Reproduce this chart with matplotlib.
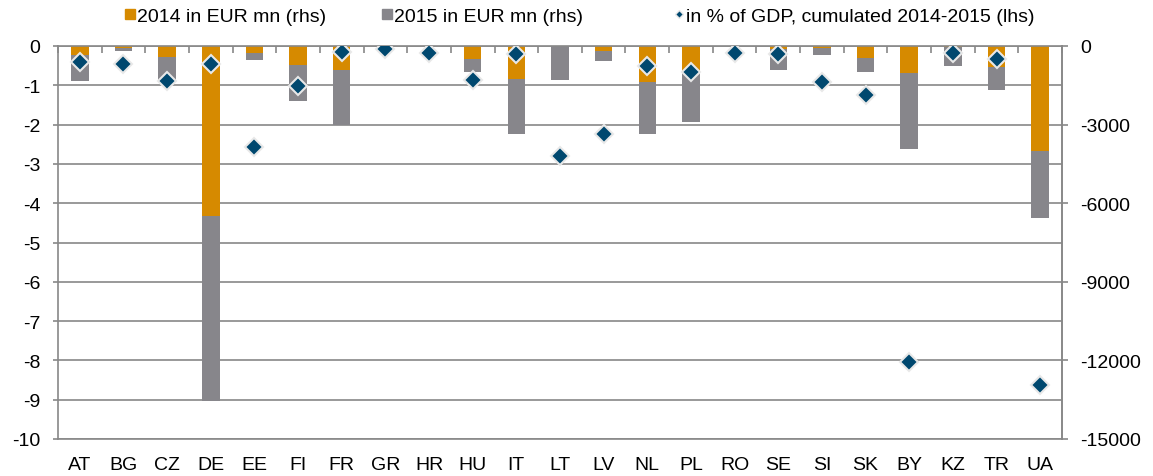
import matplotlib
matplotlib.use("Agg")
import matplotlib.pyplot as plt
from matplotlib.ticker import MultipleLocator, FixedLocator
from matplotlib.lines import Line2D
import numpy as np

countries = ['AT', 'BG', 'CZ', 'DE', 'EE', 'FI', 'FR', 'GR', 'HR', 'HU', 'IT', 'LT',
             'LV', 'NL', 'PL', 'RO', 'SE', 'SI', 'SK', 'BY', 'KZ', 'TR', 'UA']
eur_2014 = [-345, -90, -410, -6494, -253, -740, -932, 0, 0, -483, -1278, 0,
            -178, -1367, -1020, 0, -127, -88, -445, -1020, -20, -805, -3990]
eur_2015 = [-1000, -110, -870, -7060, -284, -1343, -2071, 0, 0, -514, -2083, -1290,
            -409, -1994, -1866, 0, -805, -269, -537, -2916, -730, -883, -2570]
gdp_pct = [-0.41, -0.46, -0.88, -0.46, -2.57, -1.02, -0.14, -0.07, -0.19, -0.87, -0.20, -2.80,
           -2.24, -0.51, -0.66, -0.19, -0.21, -0.92, -1.25, -8.05, -0.19, -0.32, -8.62]

labels_legend = ['2014 in EUR mn (rhs)', '2015 in EUR mn (rhs)',
                 'in % of GDP, cumulated 2014-2015 (lhs)']

ORANGE = '#D68A00'
GRAY = '#87868B'
BLUE = '#00486F'
GRID = '#888888'
FS = 14

plt.rcParams['font.family'] = ['Liberation Sans', 'DejaVu Sans']
plt.rcParams['font.size'] = FS
plt.rcParams['axes.unicode_minus'] = False

W, H = 1153, 477
fig = plt.figure(figsize=(W / 100, H / 100), dpi=100)
ax = fig.add_axes([58 / W, 1 - 440 / H, (1062 - 58) / W, (440 - 47) / H])
ax2 = ax.twinx()

x = np.arange(len(countries))

# bars on right axis
ax2.bar(x, eur_2014, width=0.4, color=ORANGE, zorder=3)
ax2.bar(x, eur_2015, width=0.4, bottom=eur_2014, color=GRAY, zorder=3)
ax2.set_ylim(-15000, 0)
ax2.yaxis.set_major_locator(MultipleLocator(3000))
ax2.yaxis.set_minor_locator(MultipleLocator(1500))
ax2.grid(True, which='both', axis='y', color=GRID, linewidth=1.2, zorder=0)
ax2.set_axisbelow(True)
ax2.tick_params(axis='y', which='major', length=4.3, width=1.2, color=GRID, pad=9)
ax2.tick_params(axis='y', which='minor', length=0)

# diamonds on left axis (drawn on top)
ax.set_zorder(ax2.get_zorder() + 1)
ax.patch.set_visible(False)
ax.plot(x, gdp_pct, linestyle='none', marker='D', markersize=9.5,
        markerfacecolor=BLUE, markeredgecolor='#E8E8E8', markeredgewidth=1.5, zorder=5)
ax.set_ylim(-10, 0)
ax.set_xlim(-0.5, len(countries) - 0.5)
ax.yaxis.set_major_locator(MultipleLocator(1))
ax.tick_params(axis='y', length=3.6, width=1.2, color=GRID, pad=9)

ax.set_xticks(x)
ax.set_xticklabels(countries)
ax.xaxis.set_minor_locator(FixedLocator(np.arange(-0.5, len(countries), 1.0)))
ax.tick_params(axis='x', which='major', length=0, pad=12)
ax.tick_params(axis='x', which='minor', bottom=False, top=True, direction='in',
               length=5, width=1.2, color=GRID)

for a in (ax, ax2):
    for s in a.spines.values():
        s.set_color(GRID)
        s.set_linewidth(1.2)
ax2.spines['left'].set_visible(False)
ax2.spines['top'].set_visible(False)
ax2.spines['bottom'].set_visible(False)

handles = [
    Line2D([], [], linestyle='none', marker='s', markersize=7, color=ORANGE),
    Line2D([], [], linestyle='none', marker='s', markersize=7, color=GRAY),
    Line2D([], [], linestyle='none', marker='D', markersize=4.5,
           markerfacecolor=BLUE, markeredgecolor='#E8E8E8', markeredgewidth=1),
]
legend_x = [125, 382, 674]
for h, lab, lx in zip(handles, labels_legend, legend_x):
    leg = fig.legend([h], [lab], loc='center left', bbox_to_anchor=(lx / W, 1 - 17 / H),
                     frameon=False, handlelength=0.5, handletextpad=0.1,
                     borderpad=0, borderaxespad=0, fontsize=FS)

fig.savefig('out.png', dpi=100)
